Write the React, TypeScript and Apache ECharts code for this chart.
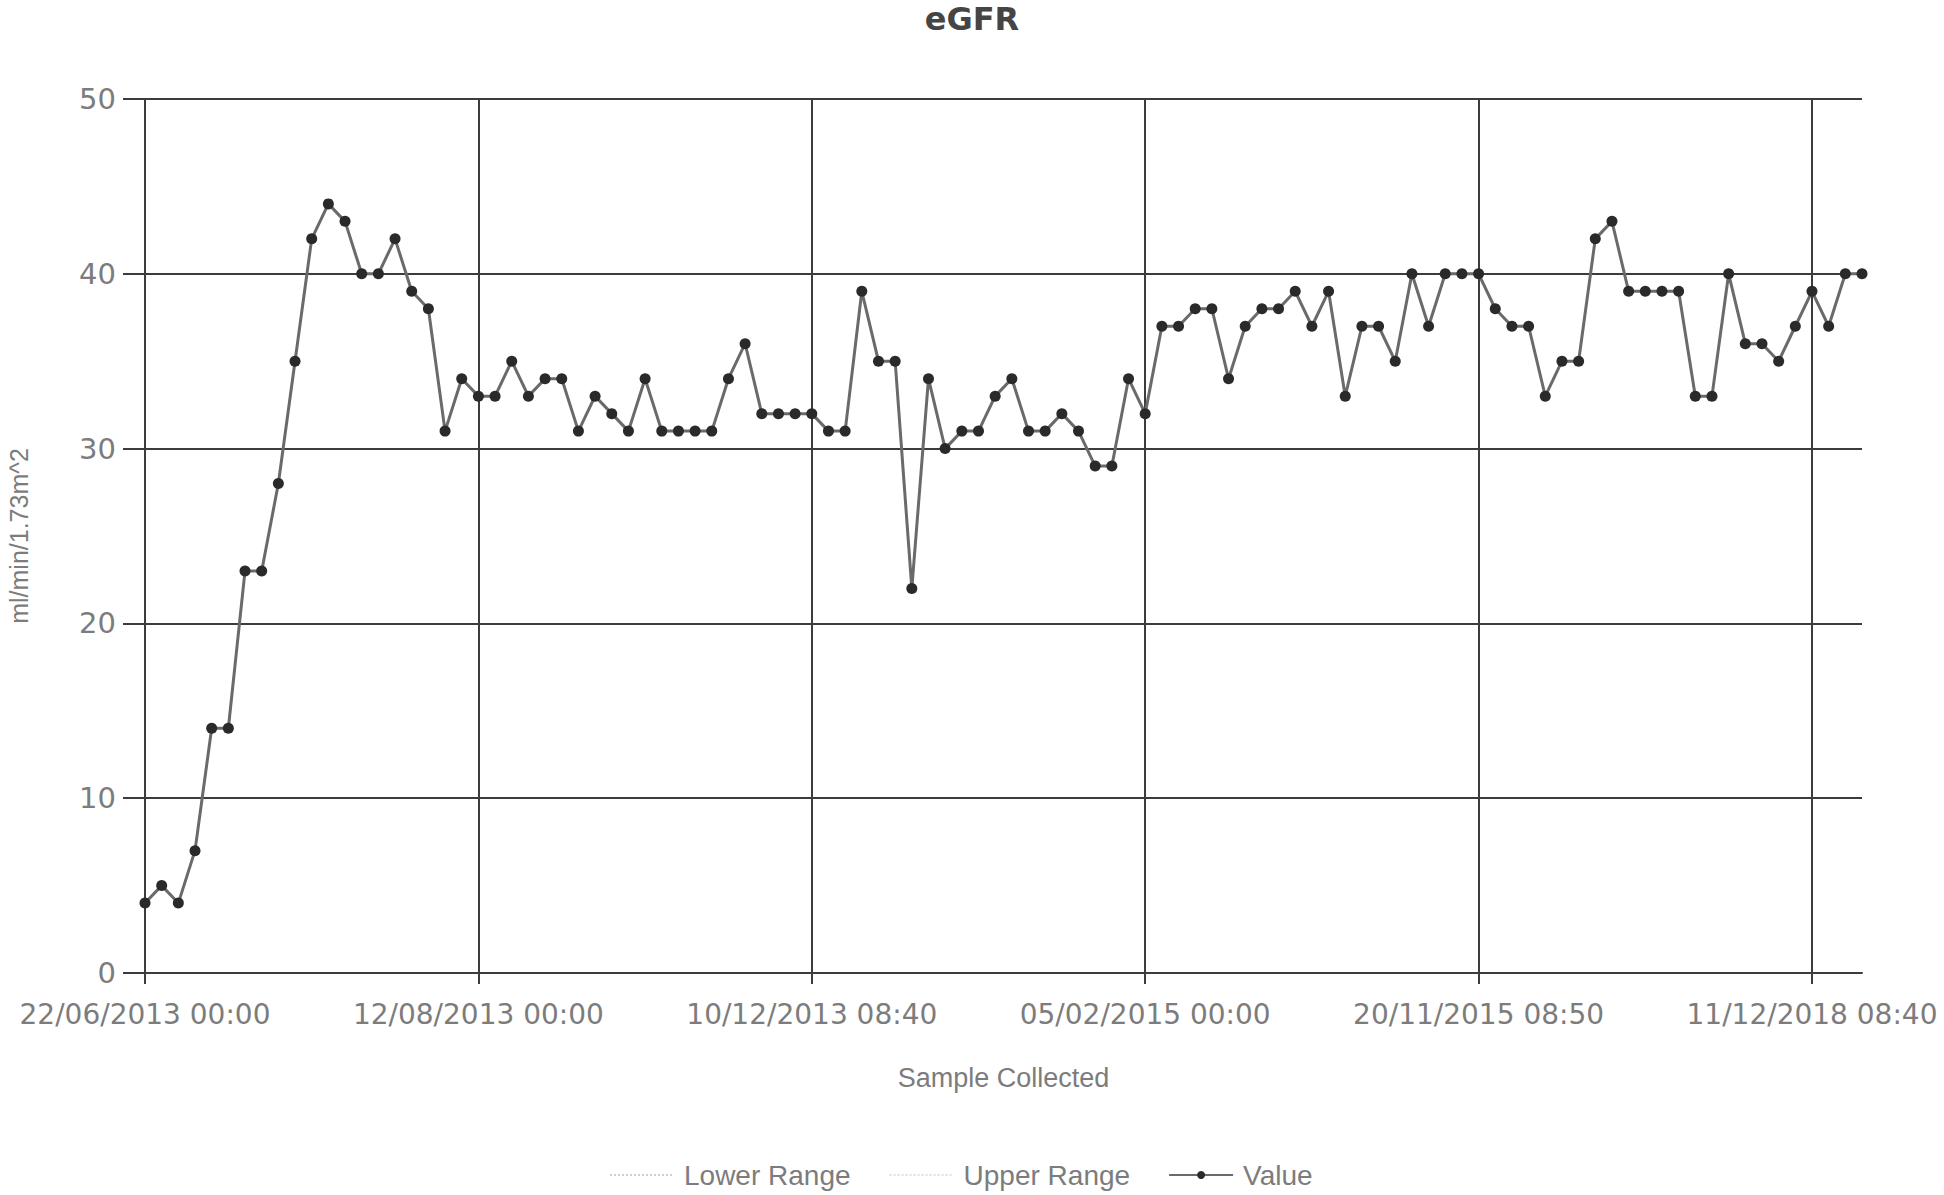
import { useEffect, useRef } from 'react';
import * as echarts from 'echarts';

const chartTitle = 'eGFR';
const xAxisName = 'Sample Collected';
const yAxisName = 'ml/min/1.73m^2';
const tickLabels = [
  '22/06/2013 00:00',
  '12/08/2013 00:00',
  '10/12/2013 08:40',
  '05/02/2015 00:00',
  '20/11/2015 08:50',
  '11/12/2018 08:40',
];
const tickEvery = 20;
const egfrValues = [
  4, 5, 4, 7, 14, 14, 23, 23, 28, 35,
  42, 44, 43, 40, 40, 42, 39, 38, 31, 34,
  33, 33, 35, 33, 34, 34, 31, 33, 32, 31,
  34, 31, 31, 31, 31, 34, 36, 32, 32, 32,
  32, 31, 31, 39, 35, 35, 22, 34, 30, 31,
  31, 33, 34, 31, 31, 32, 31, 29, 29, 34,
  32, 37, 37, 38, 38, 34, 37, 38, 38, 39,
  37, 39, 33, 37, 37, 35, 40, 37, 40, 40,
  40, 38, 37, 37, 33, 35, 35, 42, 43, 39,
  39, 39, 39, 33, 33, 40, 36, 36, 35, 37,
  39, 37, 40, 40,
];
const lowerRange: number[] = [];
const upperRange: number[] = [];
const yMin = 0;
const yMax = 50;
const yStep = 10;

export default function App() {
  const ref = useRef<HTMLDivElement>(null);
  useEffect(() => {
    const chart = echarts.init(ref.current!, null, { renderer: 'svg' });
    const categories = egfrValues.map((_, i) => String(i));
    const gridColor = '#3c3c3c';
    const labelColor = '#7c7c7c';
    chart.setOption({
      animation: false,
      backgroundColor: '#ffffff',
      title: {
        text: chartTitle,
        left: 'center',
        top: -2,
        textStyle: { fontFamily: 'DejaVu Sans', fontWeight: 'bold', fontSize: 32, color: '#454545' },
      },
      legend: {
        left: 604,
        top: 1156,
        itemWidth: 64,
        itemHeight: 10,
        itemGap: 38,
        textStyle: { fontFamily: 'Liberation Sans', fontSize: 28, color: labelColor, padding: [0, 0, 0, 5] },
        data: [
          { name: 'Lower Range', itemStyle: { opacity: 0 } },
          { name: 'Upper Range', itemStyle: { opacity: 0 } },
          { name: 'Value' },
        ],
      },
      grid: {
        left: 145,
        right: 82,
        top: 99,
        bottom: 222,
        containLabel: false,
        outerBoundsMode: 'none',
      },
      xAxis: {
        type: 'category',
        data: categories,
        boundaryGap: false,
        name: xAxisName,
        nameLocation: 'middle',
        nameGap: 91,
        nameTextStyle: { fontFamily: 'Liberation Sans', fontSize: 27, color: labelColor },
        axisLine: { show: true, lineStyle: { color: gridColor, width: 2 } },
        axisTick: { show: true, interval: tickEvery - 1, length: 11, lineStyle: { color: gridColor, width: 2 } },
        axisLabel: {
          interval: tickEvery - 1,
          margin: 27,
          fontFamily: 'DejaVu Sans',
          fontSize: 28,
          color: labelColor,
          formatter: (v: string) => {
            const i = Number(v);
            return i % tickEvery === 0 ? tickLabels[i / tickEvery] ?? '' : '';
          },
        },
        splitLine: { show: true, interval: tickEvery - 1, lineStyle: { color: gridColor, width: 2 } },
      },
      yAxis: {
        type: 'value',
        min: yMin,
        max: yMax,
        interval: yStep,
        name: yAxisName,
        nameLocation: 'middle',
        nameGap: 114,
        nameRotate: 90,
        nameTextStyle: { fontFamily: 'Liberation Sans', fontSize: 25, color: labelColor },
        axisLine: { show: true, lineStyle: { color: gridColor, width: 2 } },
        axisTick: { show: true, length: 22, lineStyle: { color: gridColor, width: 2 } },
        axisLabel: { margin: 29, fontFamily: 'DejaVu Sans', fontSize: 29, color: labelColor },
        splitLine: { show: true, lineStyle: { color: gridColor, width: 2 } },
      },
      series: [
        {
          name: 'Lower Range',
          type: 'line',
          data: lowerRange,
          symbol: 'none',
          lineStyle: { color: '#cfcfcf', width: 3, type: 'dotted' },
          itemStyle: { color: '#cfcfcf' },
        },
        {
          name: 'Upper Range',
          type: 'line',
          data: upperRange,
          symbol: 'none',
          lineStyle: { color: '#e0e0e0', width: 3, type: 'dotted' },
          itemStyle: { color: '#e0e0e0' },
        },
        {
          name: 'Value',
          type: 'line',
          data: egfrValues,
          symbol: 'circle',
          symbolSize: 11,
          showAllSymbol: true,
          lineStyle: { color: '#6a6a6a', width: 3 },
          itemStyle: { color: '#2a2a2a' },
          z: 5,
        },
      ],
    });
    return () => chart.dispose();
  }, []);
  return (
    <div
      ref={ref}
      style={{ position: 'fixed', left: 0, top: 0, width: 1944, height: 1195, background: '#fff' }}
    />
  );
}
